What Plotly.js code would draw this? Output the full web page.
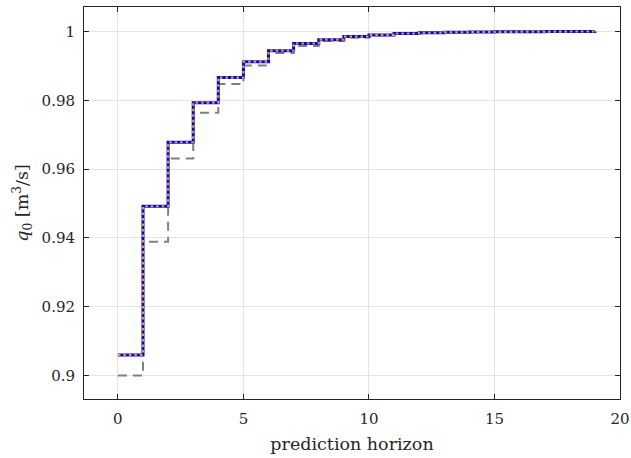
<!DOCTYPE html>
<html>
<head>
<meta charset="utf-8">
<script src="https://cdn.plot.ly/plotly-3.0.1.min.js"></script>
<style>html,body{margin:0;padding:0;background:#fff;}#chart{width:631px;height:458px;}</style>
</head>
<body>
<div id="chart"></div>
<script>
// prediction horizon steps
var horizon = [0,1,2,3,4,5,6,7,8,9,10,11,12,13,14,15,16,17,18,19];
// solid (blue / orange dotted) series
var qSolid = [0.9060,0.9492,0.9678,0.9793,0.9866,0.9912,0.9944,0.9965,0.9976,0.9985,0.9990,0.9994,0.99962,0.99975,0.99984,0.9999,0.99994,0.99996,0.99998,0.99999];
// dashed gray series
var qDashed = [0.9000,0.9389,0.9631,0.9764,0.9847,0.9901,0.9937,0.9958,0.9972,0.9982,0.9989,0.9993,0.99955,0.9997,0.9998,0.99988,0.99992,0.99995,0.99997,0.99999];
var xTicks = [0,5,10,15,20];
var xTickText = ['0','5','10','15','20'];
var yTicks = [0.9,0.92,0.94,0.96,0.98,1];
var yTickText = ['0.9','0.92','0.94','0.96','0.98','1'];

var serif = 'DejaVu Serif';

var traces = [
  {x: horizon, y: qDashed, mode: 'lines', line: {shape: 'hv', color: '#808080', width: 2, dash: '9px,6px'}, hoverinfo: 'skip', showlegend: false},
  {x: horizon, y: qSolid, mode: 'lines', line: {shape: 'hv', color: '#0000FF', width: 3}, hoverinfo: 'skip', showlegend: false},
  {x: horizon, y: qSolid, mode: 'lines', line: {shape: 'hv', color: '#EDA800', width: 2.2, dash: '2.5px,3px'}, hoverinfo: 'skip', showlegend: false}
];

function axisBase() {
  return {
    showline: true, linecolor: '#262626', linewidth: 1, mirror: 'ticks',
    ticks: 'inside', ticklen: 5, tickcolor: '#262626', tickwidth: 1,
    showgrid: true, gridcolor: '#e3e3e3', gridwidth: 1, zeroline: false,
    tickfont: {family: serif, size: 15, color: '#262626'}
  };
}

var xa = axisBase();
xa.range = [-1.35, 20];
xa.tickmode = 'array';
xa.tickvals = xTicks;
xa.ticktext = xTickText;
xa.ticklabelstandoff = 6;
xa.title = {text: 'prediction horizon', font: {family: serif, size: 17.5, color: '#262626'}, standoff: 10};

var ya = axisBase();
ya.range = [0.8932, 1.0071];
ya.tickmode = 'array';
ya.tickvals = yTicks;
ya.ticktext = yTickText;
ya.ticklabelstandoff = 5;
ya.title = {text: '<i>q</i><sub>0</sub> [m<sup>3</sup>/s]', font: {family: serif, size: 17.5, color: '#262626'}, standoff: 8};

var layout = {
  width: 631, height: 458,
  margin: {l: 84, r: 11, t: 7, b: 59},
  paper_bgcolor: '#ffffff', plot_bgcolor: '#ffffff',
  font: {family: serif, color: '#262626'},
  showlegend: false,
  xaxis: xa,
  yaxis: ya
};

Plotly.newPlot('chart', traces, layout, {staticPlot: true, displayModeBar: false});
</script>
</body>
</html>
